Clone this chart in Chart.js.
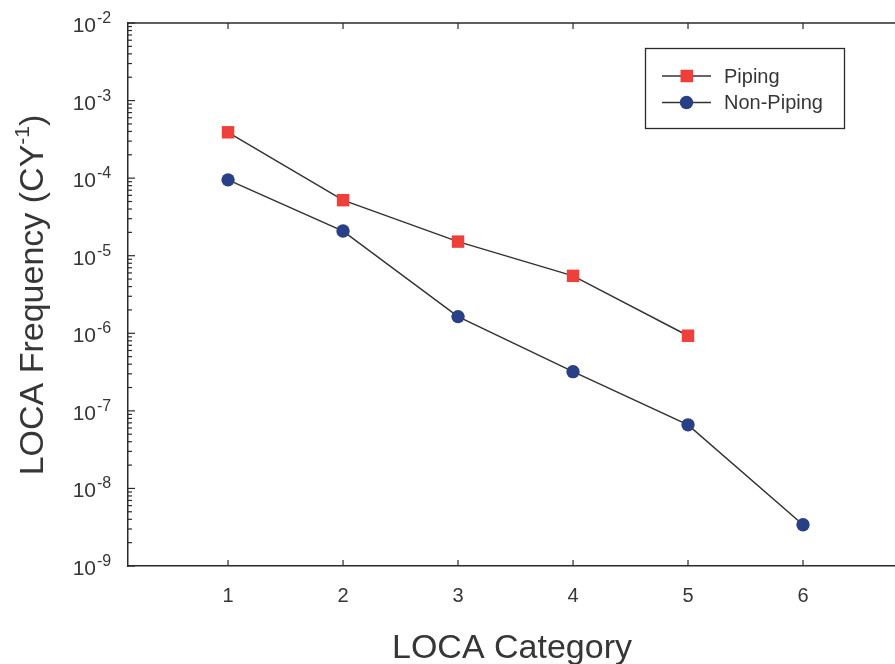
<!DOCTYPE html>
<html>
<head>
<meta charset="utf-8">
<script src="https://cdn.jsdelivr.net/npm/chart.js@4"></script>
<style>
  body { margin: 0; background: #fff; overflow: hidden; }
  #wrap { width: 895px; height: 664px; }
</style>
</head>
<body>
<div id="wrap"><canvas id="loca"></canvas></div>
<script>
const categories = [1, 2, 3, 4, 5, 6];
const piping = [3.9e-4, 5.2e-5, 1.52e-5, 5.5e-6, 9.3e-7];
const nonPiping = [9.5e-5, 2.08e-5, 1.64e-6, 3.2e-7, 6.6e-8, 3.4e-9];
const decades = [-9, -8, -7, -6, -5, -4, -3, -2];

const axisColor = "#2a2a2a";
const textColor = "#363636";
const font = '"Liberation Sans", Arial, sans-serif';

const toPoints = (vals) => vals.map((v, i) => ({ x: categories[i], y: v }));

// axes frame, inward ticks, superscript labels, titles and legend
const decorations = {
  id: "decorations",
  afterDraw(chart) {
    const ctx = chart.ctx;
    const { left, top, right, bottom } = chart.chartArea;
    const xs = chart.scales.x;
    const ys = chart.scales.y;
    const line = (x1, y1, x2, y2) => {
      ctx.beginPath();
      ctx.moveTo(x1, y1);
      ctx.lineTo(x2, y2);
      ctx.stroke();
    };
    ctx.save();
    ctx.strokeStyle = axisColor;
    ctx.lineWidth = 1.5;
    line(left, top, right, top);

    ctx.lineWidth = 1.2;
    decades.forEach((e) => {
      const py = ys.getPixelForValue(Math.pow(10, e));
      line(left, py, left + 7, py);
      if (e < -2) {
        for (let m = 2; m < 10; m++) {
          const p = ys.getPixelForValue(m * Math.pow(10, e));
          line(left, p, left + 4, p);
        }
      }
      // label 10^e
      ctx.fillStyle = textColor;
      ctx.textBaseline = "alphabetic";
      ctx.textAlign = "left";
      ctx.font = "16px " + font;
      ctx.fillText(String(e), 97, py);
      ctx.textAlign = "right";
      ctx.font = "21px " + font;
      ctx.fillText("10", 96, py + 9);
    });

    categories.forEach((c) => {
      const px = xs.getPixelForValue(c);
      line(px, bottom, px, bottom - 6);
      line(px, top, px, top + 6);
      ctx.fillStyle = textColor;
      ctx.textAlign = "center";
      ctx.font = "20px " + font;
      ctx.fillText(String(c), px, 602);
    });

    // x title
    ctx.font = "34px " + font;
    ctx.textAlign = "center";
    ctx.fillText("LOCA Category", 512, 658);

    // y title with superscript
    ctx.save();
    ctx.translate(43, 295);
    ctx.rotate(-Math.PI / 2);
    ctx.textAlign = "left";
    ctx.font = "34px " + font;
    const a = "LOCA Frequency (CY";
    const wa = ctx.measureText(a).width;
    ctx.font = "21px " + font;
    const sup = "-1";
    const ws = ctx.measureText(sup).width;
    ctx.font = "34px " + font;
    const wb = ctx.measureText(")").width;
    let sx = -(wa + ws + wb) / 2;
    ctx.fillText(a, sx, 0);
    ctx.font = "21px " + font;
    ctx.fillText(sup, sx + wa, -14);
    ctx.font = "34px " + font;
    ctx.fillText(")", sx + wa + ws, 0);
    ctx.restore();

    // legend
    ctx.strokeStyle = axisColor;
    ctx.lineWidth = 1.3;
    ctx.strokeRect(645.5, 48.5, 199, 80);
    chart.data.datasets.forEach((ds, i) => {
      const ly = 76 + i * 26.5;
      ctx.strokeStyle = ds.borderColor;
      ctx.lineWidth = 1.5;
      line(662, ly, 711, ly);
      ctx.fillStyle = ds.pointBackgroundColor;
      if (ds.pointStyle === "rect") {
        ctx.fillRect(680.5, ly - 6.25, 12.5, 12.5);
      } else {
        ctx.beginPath();
        ctx.arc(686.5, ly, 6.7, 0, Math.PI * 2);
        ctx.fill();
      }
      ctx.fillStyle = textColor;
      ctx.textAlign = "left";
      ctx.textBaseline = "middle";
      ctx.font = "20px " + font;
      ctx.fillText(ds.label, 724, ly + 1);
    });
    ctx.restore();
  },
};

new Chart(document.getElementById("loca"), {
  type: "line",
  plugins: [decorations],
  data: {
    datasets: [
      {
        label: "Piping",
        data: toPoints(piping),
        borderColor: "#333333",
        borderWidth: 1.5,
        pointStyle: "rect",
        pointRadius: 8.8,
        pointBorderWidth: 0,
        pointBackgroundColor: "#ef3f3a",
        pointBorderColor: "#ef3f3a",
      },
      {
        label: "Non-Piping",
        data: toPoints(nonPiping),
        borderColor: "#333333",
        borderWidth: 1.5,
        pointStyle: "circle",
        pointRadius: 6.7,
        pointBorderWidth: 0,
        pointBackgroundColor: "#293f86",
        pointBorderColor: "#293f86",
      },
    ],
  },
  options: {
    responsive: true,
    maintainAspectRatio: false,
    animation: false,
    layout: { autoPadding: false, padding: { left: 128, top: 23, right: 0, bottom: 98 } },
    plugins: { legend: { display: false }, tooltip: { enabled: false } },
    scales: {
      x: {
        type: "linear",
        min: 0.13,
        max: 6.8,
        grid: { display: false, drawTicks: false },
        border: { display: true, color: axisColor, width: 1.5 },
        ticks: { display: false },
      },
      y: {
        type: "logarithmic",
        min: 1e-9,
        max: 1e-2,
        grid: { display: false, drawTicks: false },
        border: { display: true, color: axisColor, width: 1.5 },
        ticks: { display: false },
      },
    },
  },
});
</script>
</body>
</html>
